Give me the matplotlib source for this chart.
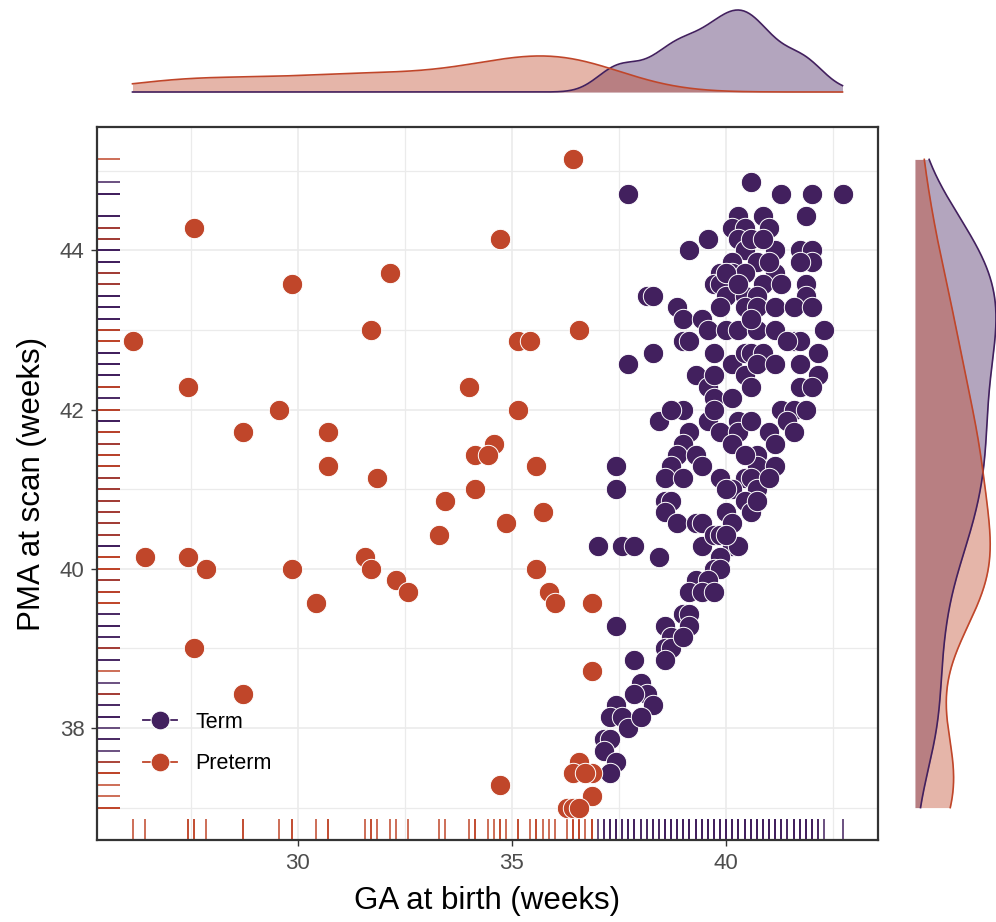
import numpy as np
import matplotlib
matplotlib.use("Agg")
import matplotlib.pyplot as plt
from matplotlib.lines import Line2D
from matplotlib.ticker import MultipleLocator

plt.rcParams["font.family"] = ["Liberation Sans", "DejaVu Sans"]

PURPLE = "#42205E"
ORANGE = "#C0462A"
GRID = "#EBEBEB"
DARK = "#333333"

# ages in days (values sit on a 1-day grid), converted to weeks below
TERM_GA = [
    264, 284, 289, 294, 299, 293, 282, 286, 281, 283, 287, 282, 277, 274, 283,
    288, 292, 294, 294, 292, 285, 281, 281, 279, 283, 288, 278, 279, 286, 289,
    293, 267, 268, 280, 283, 285, 293, 272, 279, 283, 285, 288, 291, 294, 273,
    276, 277, 280, 282, 285, 288, 296, 273, 274, 264, 268, 278, 281, 283, 284,
    286, 283, 285, 288, 291, 292, 292, 295, 295, 275, 277, 278, 281, 284, 292,
    294, 271, 273, 289, 291,
    269, 271, 277, 278, 279, 282, 282, 281, 284, 293, 290, 287, 288, 291, 274,
    273, 272, 275, 276, 271, 270, 273, 279, 283, 285, 285, 288, 284, 285, 287,
    281, 270, 271, 270, 272, 275, 276, 280, 281, 283, 284, 285, 276, 278, 279,
    281, 282, 280, 259, 263, 265, 269, 279, 278, 279, 275, 277, 274, 276, 278,
    262, 270, 273, 274, 271, 274, 270, 262, 262,
    265, 271, 273, 270, 266, 267, 268, 265, 262, 261, 263, 264, 266, 260, 261,
    260, 262, 261,
    284, 280, 286, 284, 282, 287, 290, 278, 283, 280,
]
TERM_PMA = [
    313, 314, 313, 313, 313, 311, 311, 311, 310, 310, 310, 309, 309, 308, 308,
    308, 308, 308, 307, 307, 307, 307, 306, 306, 306, 306, 305, 305, 305, 305,
    305, 304, 304, 304, 304, 304, 304, 303, 303, 303, 303, 303, 303, 303, 302,
    302, 301, 301, 301, 301, 301, 301, 300, 300, 298, 299, 299, 298, 299, 299,
    299, 297, 298, 298, 300, 300, 298, 299, 297, 297, 296, 295, 295, 296, 296,
    296, 294, 294, 294, 294,
    293, 294, 293, 294, 292, 293, 292, 291, 293, 294, 293, 292, 291, 292, 292,
    291, 290, 290, 289, 289, 288, 288, 288, 288, 290, 289, 289, 288, 287, 288,
    287, 286, 286, 285, 284, 284, 284, 285, 284, 286, 285, 286, 282, 283, 283,
    282, 282, 283, 282, 282, 282, 281, 281, 280, 280, 279, 279, 278, 278, 278,
    275, 275, 276, 276, 274, 275, 273, 289, 287,
    272, 273, 274, 272, 270, 269, 268, 269, 268, 267, 267, 266, 267, 265, 265,
    264, 263, 262,
    309, 306, 309, 302, 305, 307, 300, 297, 290, 287,
]
PRETERM_GA = [
    255, 193, 243, 225, 209, 183, 222, 256, 246, 248, 192, 238, 207, 246, 201,
    215, 242, 239, 241, 215, 249, 223, 234, 239, 250, 244, 233, 185, 192, 221,
    195, 209, 222, 249, 226, 228, 251, 213, 252, 258, 193, 258, 201, 243,
    256, 255, 258, 257, 258, 254, 255, 256,
]
PRETERM_PMA = [
    316, 310, 309, 306, 305, 300, 301, 301, 300, 300, 296, 296, 294, 294, 292,
    292, 291, 290, 290, 289, 289, 288, 286, 287, 285, 284, 283, 281, 281, 281,
    280, 280, 280, 280, 279, 278, 278, 277, 277, 277, 273, 271, 269, 261,
    263, 262, 262, 262, 260, 259, 259, 259,
]
GROUPS = ["Term", "Preterm"]
COLORS = [PURPLE, ORANGE]

term_ga = np.array(TERM_GA) / 7
term_pma = np.array(TERM_PMA) / 7
pre_ga = np.array(PRETERM_GA) / 7
pre_pma = np.array(PRETERM_PMA) / 7
data = [(term_ga, term_pma), (pre_ga, pre_pma)]


def kde_nrd0(v, grid):
    n = v.size
    iqr = np.subtract(*np.percentile(v, [75, 25]))
    bw = 0.9 * min(v.std(ddof=1), iqr / 1.34) * n ** -0.2
    z = (grid[:, None] - v[None, :]) / bw
    return np.exp(-0.5 * z ** 2).sum(1) / (n * bw * np.sqrt(2 * np.pi))


all_ga = np.concatenate([term_ga, pre_ga])
all_pma = np.concatenate([term_pma, pre_pma])
gx = np.linspace(all_ga.min(), all_ga.max(), 512)
gy = np.linspace(all_pma.min(), all_pma.max(), 512)
xpad = 0.05 * np.ptp(all_ga)
ypad = 0.05 * np.ptp(all_pma)
xlim = (all_ga.min() - xpad, all_ga.max() + xpad)
ylim = (all_pma.min() - ypad, all_pma.max() + ypad)

W, H = 996, 922
fig = plt.figure(figsize=(W / 100, H / 100), dpi=100)


def px_axes(x0, y0, x1, y1):
    return fig.add_axes([x0 / W, 1 - y1 / H, (x1 - x0) / W, (y1 - y0) / H])


ax = px_axes(97, 127, 878, 840)
ax_top = px_axes(97, 10, 878, 92)
ax_right = px_axes(915, 127, 996, 840)

# main scatter
ax.set_xlim(xlim)
ax.set_ylim(ylim)
ax.xaxis.set_major_locator(MultipleLocator(5))
ax.xaxis.set_minor_locator(MultipleLocator(2.5))
ax.yaxis.set_major_locator(MultipleLocator(2))
ax.yaxis.set_minor_locator(MultipleLocator(1))
ax.grid(which="major", color=GRID, lw=1.2, zorder=0)
ax.grid(which="minor", color=GRID, lw=0.9, zorder=0)
ax.set_axisbelow(True)
for sp in ax.spines.values():
    sp.set_color(DARK)
    sp.set_linewidth(1.6)
ax.tick_params(which="major", length=4, width=1, color=DARK,
               labelsize=16, labelcolor="#4D4D4D", pad=5)
ax.tick_params(which="minor", length=0)

for (gxv, gyv), col in zip(data, COLORS):
    ax.scatter(gxv, gyv, s=215, color=col, edgecolor="white", linewidth=0.7,
               zorder=3)
for (gxv, gyv), col in zip(data, COLORS):
    ax.vlines(gxv, 0, 0.03, transform=ax.get_xaxis_transform(), color=col,
              lw=1.1, zorder=2)
    ax.hlines(gyv, 0, 0.03, transform=ax.get_yaxis_transform(), color=col,
              lw=1.1, zorder=2)

ax.set_xlabel("GA at birth (weeks)", fontsize=22.5, color="black", labelpad=9)
ax.set_ylabel("PMA at scan (weeks)", fontsize=22.5, color="black", labelpad=9)

handles = [Line2D([0], [0], color=c, lw=1.3, marker="o", markersize=13.5,
                  markeredgecolor="white", markeredgewidth=0.7)
           for c in COLORS]
fig.legend(handles, GROUPS, loc="upper left",
           bbox_to_anchor=(143 / W, 1 - 712 / H), frameon=False,
           fontsize=15.5, handlelength=1.6, handletextpad=0.85,
           labelspacing=0.95, borderpad=0, borderaxespad=0)

# marginal densities
top_d = [kde_nrd0(g, gx) for g, _ in data]
right_d = [kde_nrd0(p, gy) for _, p in data]
for d, col in zip(top_d, COLORS):
    ax_top.fill_between(gx, 0, d, color=col, alpha=0.4, lw=0)
    ax_top.plot(gx, d, color=col, lw=1.2, clip_on=False)
ax_top.set_xlim(xlim)
ax_top.set_ylim(0, max(d.max() for d in top_d))
ax_top.axis("off")

for d, col in zip(right_d, COLORS):
    ax_right.fill_betweenx(gy, 0, d, color=col, alpha=0.4, lw=0)
    ax_right.plot(d, gy, color=col, lw=1.2, clip_on=False)
ax_right.set_ylim(ylim)
ax_right.set_xlim(0, max(d.max() for d in right_d))
ax_right.axis("off")

fig.savefig("out.png", dpi=100, facecolor="white")
